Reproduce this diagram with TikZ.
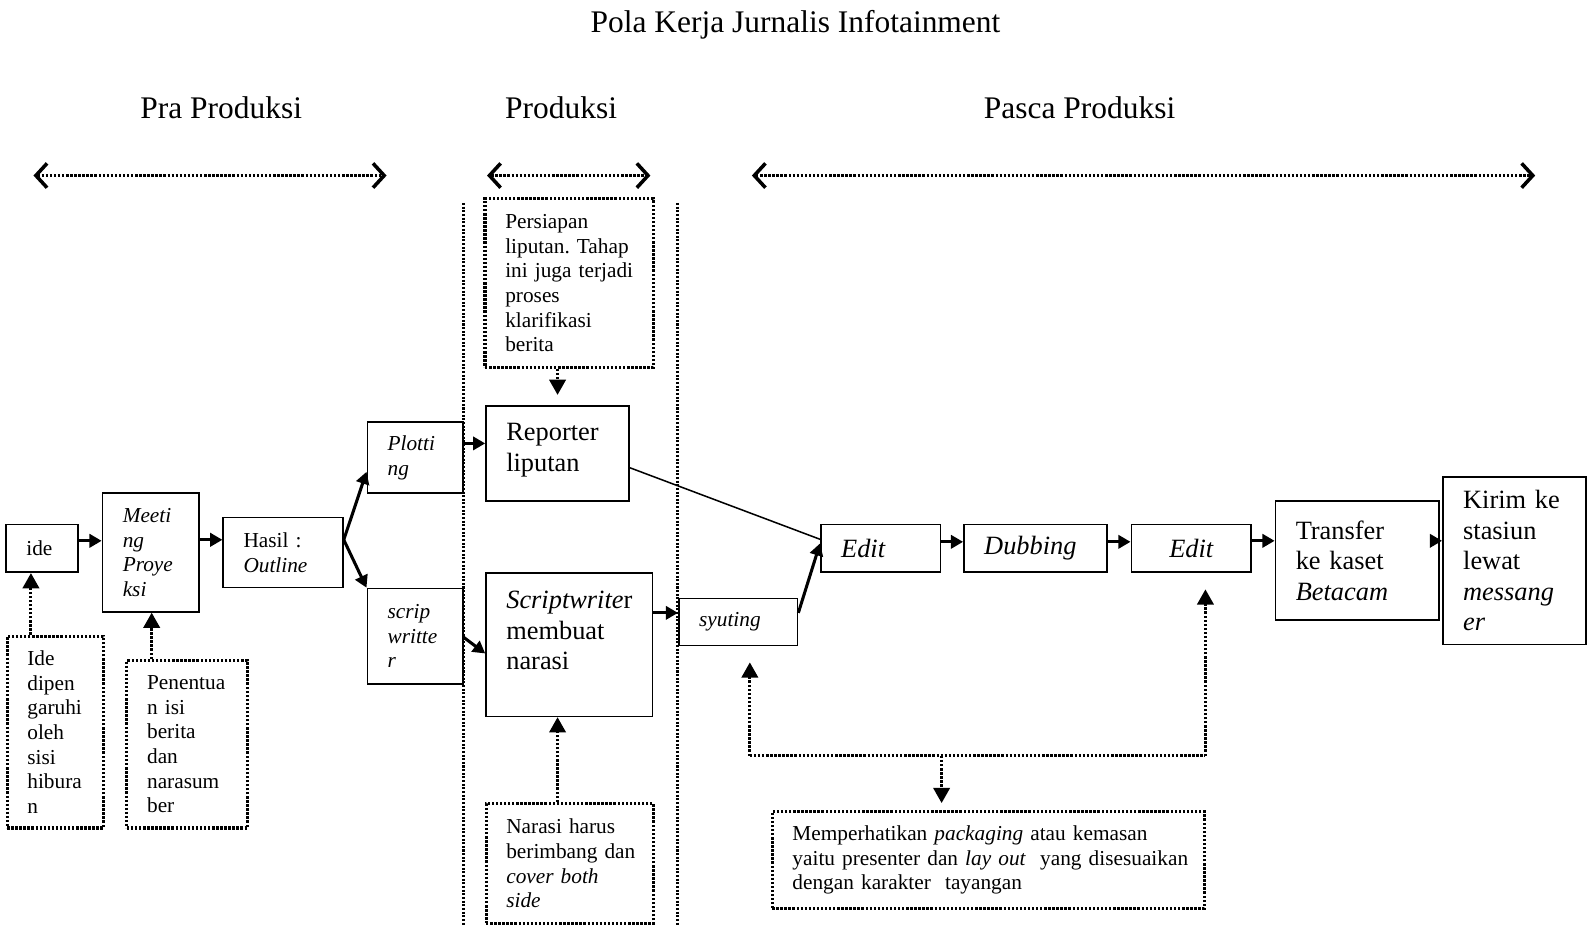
\documentclass[tikz,border=0pt]{standalone}
\usepackage{fontspec}
\setmainfont{Liberation Serif}
\usepackage{tikz}

\newcommand{\smalltxt}{\fontsize{21}{24.3}\selectfont}
\newcommand{\bigtxt}{\fontsize{26}{30}\selectfont}
\newcommand{\headtxt}{\fontsize{31}{36}\selectfont}

\begin{document}
\begin{tikzpicture}[x=1pt, y=-1pt]
            \usetikzlibrary{arrows.meta}

            \tikzset{
                box/.style = {rectangle, draw=black, line width=1.6pt, inner xsep=20pt, inner ysep=0pt, align=left, font=\smalltxt},
                bigbox/.style = {box, font=\bigtxt},
                notebox/.style = {box, line width=3pt, dash pattern=on 2.4pt off 1.6pt},
                arrow/.style = {line width=3pt, -{Triangle[length=12pt, width=13pt]}},
                thinline/.style = {line width=1.5pt},
                dotline/.style = {line width=3pt, dash pattern=on 2.4pt off 1.6pt},
                dotarrow/.style = {dotline, -{Triangle[length=15pt, width=16pt]}},
                span/.style = {dotline, >={Straight Barb[length=11pt, width=24pt, line width=3.5pt]}, <->},
                divider/.style = {line width=2.6pt, dash pattern=on 2pt off 1.6pt},
                heading/.style = {anchor=base, font=\headtxt}
            }

            \useasboundingbox (0,0) rectangle (1568,912);

            \node (title) [heading] at (784,32) {Pola Kerja Jurnalis Infotainment};
            \node (pra) [heading] at (218,117) {Pra Produksi};
            \node (prod) [heading] at (553,117) {Produksi};
            \node (pasca) [heading] at (1064,117) {Pasca Produksi};

            \draw [span] (33,173) -- (381,173);
            \draw [span] (480,173) -- (641,173);
            \draw [span] (741,173) -- (1513,173);

            \draw [divider] (457,200) -- (457,912);
            \draw [divider] (668,200) -- (668,912);

            % pra produksi
            \node (ide) [box, minimum width=71pt, minimum height=47pt, text width=31pt] at (41.5,540.5) {ide};
            \node (meet) [box, minimum width=95pt, minimum height=117pt, text width=55pt] at (148.5,544.5) {\itshape Meeti\\ng\\Proye\\ksi};
            \node (hasil) [box, minimum width=118pt, minimum height=69pt, text width=78pt] at (279,544.5) {Hasil~:\\\textit{Outline}};
            \node (plot) [box, minimum width=94pt, minimum height=70pt, text width=54pt] at (409,451) {\itshape Plotti\\ng};
            \node (scrip) [box, minimum width=94pt, minimum height=94pt, text width=54pt] at (409,627) {\itshape scrip\\writte\\r};
            \node (idenote) [notebox, minimum width=95pt, minimum height=189pt, text width=55pt] at (54.5,721.5) {Ide\\dipen\\garuhi\\oleh\\sisi\\hibura\\n};
            \node (pen) [notebox, minimum width=119pt, minimum height=165pt, text width=79pt] at (184.5,733.5) {Penentua\\n~isi\\berita\\dan\\narasum\\ber};

            % produksi
            \node (persiap) [notebox, minimum width=166pt, minimum height=166pt, text width=126pt] at (561,279) {Persiapan\\liputan.~Tahap\\ini~juga~terjadi\\proses\\klarifikasi\\berita};
            \node (report) [bigbox, minimum width=141pt, minimum height=94pt, text width=101pt, text depth=42pt] at (549.5,447) {Reporter\\liputan};
            \node (scriptw) [bigbox, minimum width=164pt, minimum height=141pt, text width=124pt, text depth=88pt] at (561,635.5) {\textit{Scriptwrite}r\\membuat\\narasi};
            \node (narasi) [notebox, minimum width=165pt, minimum height=118pt, text width=125pt] at (561.5,851) {Narasi~harus\\berimbang~dan\\\textit{cover~both}\\\textit{side}};

            % pasca produksi
            \node (syut) [box, minimum width=117pt, minimum height=46pt, text width=77pt] at (727.5,613) {\itshape syuting};
            \node (edit1) [bigbox, minimum width=118pt, minimum height=47pt, text width=78pt] at (868,540.5) {\itshape Edit};
            \node (dub) [bigbox, minimum width=141pt, minimum height=47pt, text width=101pt] at (1020.5,540.5) {\itshape Dubbing};
            \node (edit2) [bigbox, minimum width=118pt, minimum height=47pt, text width=78pt, align=center] at (1174,540.5) {\itshape Edit};
            \node (trans) [bigbox, minimum width=161pt, minimum height=117pt, text width=121pt] at (1337.5,552.5) {Transfer\\ke~kaset\\\textit{Betacam}};
            \node (kirim) [bigbox, minimum width=141pt, minimum height=165pt, text width=101pt] at (1492.5,552.5) {Kirim~ke\\stasiun\\lewat\\\textit{messang}\\\textit{er}};
            \node (pack) [notebox, minimum width=426pt, minimum height=95pt, text width=386pt] at (974,847.5) {\mbox{Memperhatikan \textit{packaging} atau kemasan}\\\mbox{yaitu presenter dan \textit{lay out}\ \ yang disesuaikan}\\\mbox{dengan karakter\ \ tayangan}};

            \coordinate (bl) at (739,745);
            \coordinate (br) at (1188,745);
            \coordinate (jn) at (928,745);

            \draw [arrow] ([yshift=7.5pt]ide.east) -- ([yshift=11.5pt]meet.west);
            \draw [arrow] ([yshift=12.5pt]meet.east) -- ([yshift=12.5pt]hasil.west);
            \draw [arrow] ([yshift=12.5pt]hasil.east) -- ([yshift=-14pt]plot.west);
            \draw [arrow] ([yshift=12.5pt]hasil.east) -- (scrip.north west);
            \draw [arrow] ([yshift=14pt]plot.east) -- ([yshift=10pt]report.west);
            \draw [arrow] ([yshift=-1pt]scrip.east) -- ([yshift=-8.5pt]scriptw.west);
            \draw [arrow] ([yshift=31.5pt]scriptw.east) -- ([yshift=9pt]syut.west);
            \draw [thinline] ([yshift=-14pt]report.east) -- ([yshift=9pt]edit1.west);
            \draw [arrow] ([yshift=9pt]syut.east) -- ([yshift=5pt]edit1.west);
            \draw [arrow] ([yshift=6.5pt]edit1.east) -- ([yshift=6.5pt]dub.west);
            \draw [arrow] ([yshift=6.5pt]dub.east) -- ([yshift=6.5pt]edit2.west);
            \draw [arrow] ([yshift=7.5pt]edit2.east) -- ([yshift=19.5pt]trans.west);
            \draw [arrow] ([yshift=19.5pt]trans.east) -- ([yshift=19.5pt]kirim.west);

            \draw [dotarrow] ([xshift=-24pt]idenote.north) -- ([xshift=-11pt]ide.south);
            \draw [dotarrow] ([xshift=-35pt]pen.north) -- ([xshift=1pt]meet.south);
            \draw [dotarrow, shorten >=10pt] (persiap.south -| report.north) -- (report.north);
            \draw [dotarrow] (report.south |- narasi.north) -- (report.south |- scriptw.south);

            \draw [dotarrow, shorten >=16pt] (bl) -- (bl |- syut.south);
            \draw [dotline] (bl) -- (br);
            \draw [dotarrow, shorten >=16pt] (br) -- (br |- edit2.south);
            \draw [dotarrow, shorten >=7pt] (jn) -- (jn |- pack.north);
        \end{tikzpicture}
\end{document}
